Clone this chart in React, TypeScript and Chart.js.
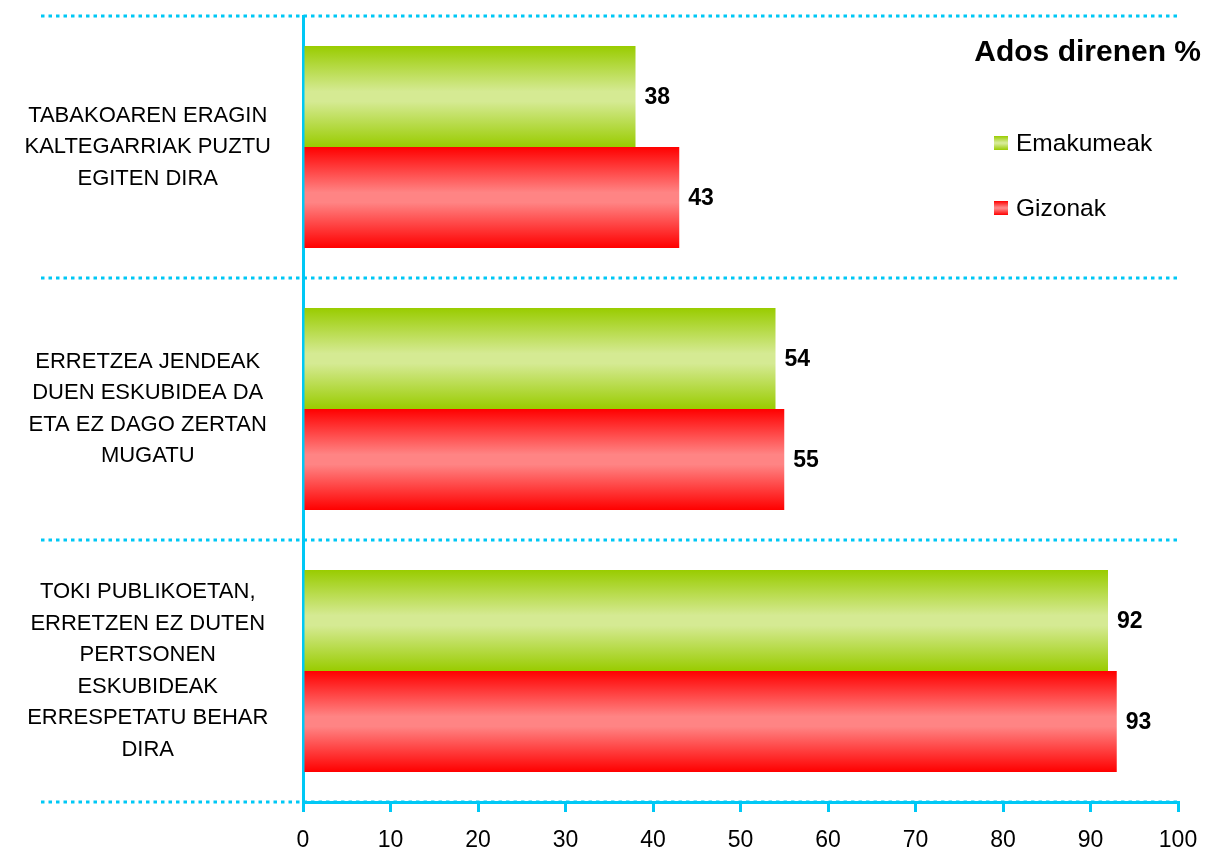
import React, { useEffect, useRef } from 'react';
import { Chart, registerables } from 'chart.js';

Chart.register(...registerables);

// ---- data ----
const categories: string[][] = [
  ['TABAKOAREN ERAGIN', 'KALTEGARRIAK PUZTU', 'EGITEN DIRA'],
  ['ERRETZEA JENDEAK', 'DUEN ESKUBIDEA DA', 'ETA EZ DAGO ZERTAN', 'MUGATU'],
  ['TOKI PUBLIKOETAN,', 'ERRETZEN EZ DUTEN', 'PERTSONEN', 'ESKUBIDEAK', 'ERRESPETATU BEHAR', 'DIRA'],
];
const seriesNames = ['Emakumeak', 'Gizonak'];
const emakumeak = [38, 54, 92];
const gizonak = [43, 55, 93];
const xMin = 0;
const xMax = 100;
const xStep = 10;
const titleText = 'Ados direnen %';

// ---- styles ----
const FONT = "'Liberation Sans', Arial, sans-serif";
const CYAN = '#00C8F5';
const GREEN_EDGE = '#99CC00';
const GREEN_MID = '#D5EA93';
const RED_EDGE = '#FF0000';
const RED_MID = '#FF8484';
const CAT_PCT = 0.771;

function vGrad(c: CanvasRenderingContext2D, top: number, h: number, edge: string, mid: string) {
  const g = c.createLinearGradient(0, top, 0, top + h);
  g.addColorStop(0, edge);
  g.addColorStop(0.45, mid);
  g.addColorStop(0.55, mid);
  g.addColorStop(1, edge);
  return g;
}

function barFill(edge: string, mid: string) {
  return (ctx: any) => {
    const chart = ctx.chart;
    const y = chart.scales && chart.scales.y;
    if (!y || ctx.type !== 'data' || !chart.chartArea) return edge;
    const n = chart.data.labels.length;
    const band = (y.bottom - y.top) / n;
    const thick = (band * CAT_PCT) / 2;
    const center = y.getPixelForValue(ctx.dataIndex);
    const top = ctx.datasetIndex === 0 ? center - thick : center;
    return vGrad(chart.ctx, top, thick, edge, mid);
  };
}

const dottedLines = {
  id: 'dottedLines',
  beforeDatasetsDraw(chart: any) {
    const c = chart.ctx as CanvasRenderingContext2D;
    const y = chart.scales.y;
    const n = chart.data.labels.length;
    c.save();
    c.strokeStyle = CYAN;
    c.lineWidth = 3;
    c.setLineDash([3.5, 4]);
    for (let i = 0; i <= n; i++) {
      const py = Math.round(y.getPixelForValue(i - 0.5));
      c.beginPath();
      c.moveTo(41, py);
      c.lineTo(chart.chartArea.right + 3, py);
      c.stroke();
    }
    c.restore();
  },
};

const valueLabels = {
  id: 'valueLabels',
  afterDatasetsDraw(chart: any) {
    const c = chart.ctx as CanvasRenderingContext2D;
    c.save();
    c.font = `bold 23px ${FONT}`;
    c.fillStyle = '#000';
    c.textAlign = 'left';
    c.textBaseline = 'middle';
    chart.data.datasets.forEach((ds: any, di: number) => {
      const meta = chart.getDatasetMeta(di);
      meta.data.forEach((el: any, i: number) => {
        c.fillText(String(ds.data[i]), el.x + 9, el.y + 1);
      });
    });
    c.restore();
  },
};

const legendAndTitle = {
  id: 'legendAndTitle',
  afterDraw(chart: any) {
    const c = chart.ctx as CanvasRenderingContext2D;
    c.save();
    c.fillStyle = '#000';
    c.font = `bold 30px ${FONT}`;
    c.textAlign = 'right';
    c.textBaseline = 'middle';
    c.fillText(titleText, 1201, 53);
    const edges = [GREEN_EDGE, RED_EDGE];
    const mids = [GREEN_MID, RED_MID];
    const ys = [143, 208];
    chart.data.datasets.forEach((ds: any, i: number) => {
      const yc = ys[i];
      c.fillStyle = vGrad(c, yc - 7, 14, edges[i], mids[i]);
      c.fillRect(994, yc - 7, 14, 14);
      c.fillStyle = '#000';
      c.font = `24.5px ${FONT}`;
      c.textAlign = 'left';
      c.fillText(ds.label, 1016, yc + 1);
    });
    c.restore();
  },
};

export default function App() {
  const ref = useRef<HTMLCanvasElement | null>(null);
  useEffect(() => {
    if (!ref.current) return;
    Chart.defaults.font.family = FONT;
    const chart = new Chart(ref.current, {
      type: 'bar',
      data: {
        labels: categories,
        datasets: [
          {
            label: seriesNames[0],
            data: emakumeak,
            backgroundColor: barFill(GREEN_EDGE, GREEN_MID),
            borderWidth: 0,
            categoryPercentage: CAT_PCT,
            barPercentage: 1,
          },
          {
            label: seriesNames[1],
            data: gizonak,
            backgroundColor: barFill(RED_EDGE, RED_MID),
            borderWidth: 0,
            categoryPercentage: CAT_PCT,
            barPercentage: 1,
          },
        ],
      },
      options: {
        indexAxis: 'y',
        animation: false,
        responsive: true,
        maintainAspectRatio: false,
        layout: { padding: { top: 16, right: 28, bottom: 0, left: 0 } },
        plugins: {
          legend: { display: false },
          tooltip: { enabled: false },
        },
        scales: {
          x: {
            min: xMin,
            max: xMax,
            ticks: {
              stepSize: xStep,
              color: '#000',
              font: { size: 23, family: FONT },
              padding: 15,
            },
            grid: {
              display: true,
              drawOnChartArea: false,
              drawTicks: true,
              tickLength: 10,
              color: CYAN,
              lineWidth: 3,
            },
            border: { display: true, color: CYAN, width: 3 },
            afterFit(scale: any) {
              scale.height = 46;
              scale.paddingLeft = 0;
              scale.paddingRight = 0;
            },
          },
          y: {
            ticks: {
              color: '#000',
              font: { size: 22, family: FONT, lineHeight: 1.43 },
              crossAlign: 'center',
              padding: 32,
              autoSkip: false,
            },
            grid: { display: false, drawTicks: false },
            border: { display: true, color: CYAN, width: 3 },
            afterFit(scale: any) {
              scale.width = 303;
              scale.paddingTop = 0;
              scale.paddingBottom = 0;
            },
          },
        },
      } as any,
      plugins: [dottedLines, valueLabels, legendAndTitle],
    });
    return () => chart.destroy();
  }, []);
  return (
    <div style={{ position: 'fixed', left: 0, top: 0, width: 1206, height: 848, background: '#fff' }}>
      <canvas ref={ref} />
    </div>
  );
}
